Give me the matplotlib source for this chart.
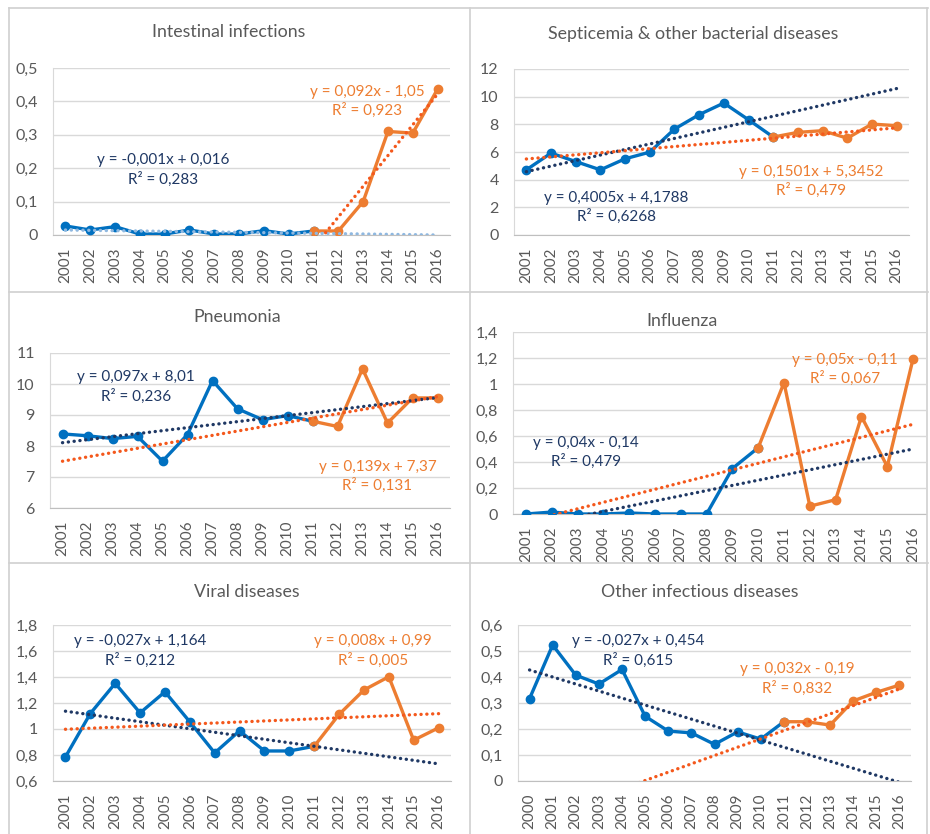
import numpy as np
import matplotlib
matplotlib.use('Agg')
import matplotlib.pyplot as plt
from matplotlib.lines import Line2D

plt.rcParams['font.family'] = ['Lato', 'DejaVu Sans']

W, H = 930, 834

years_a = [str(y) for y in range(2001, 2017)]
years_b = [str(y) for y in range(2000, 2017)]

# values per panel: blue part and orange part (orange starts where blue ends)
intestinal_blue = [0.027, 0.015, 0.025, 0.003, 0.003, 0.015, 0.003, 0.003, 0.013, 0.003, 0.012]
intestinal_orange = [0.012, 0.012, 0.10, 0.31, 0.305, 0.437]

septicemia_blue = [4.71, 5.92, 5.31, 4.71, 5.51, 5.99, 7.66, 8.70, 9.54, 8.33, 7.08]
septicemia_orange = [7.08, 7.42, 7.54, 7.00, 8.02, 7.90]

pneumonia_blue = [8.39, 8.33, 8.24, 8.31, 7.51, 8.37, 10.11, 9.20, 8.85, 8.98, 8.80]
pneumonia_orange = [8.80, 8.63, 10.49, 8.74, 9.55, 9.55]

influenza_blue = [0.0, 0.015, 0.0, 0.0, 0.008, 0.0, 0.0, 0.0, 0.35, 0.51]
influenza_orange = [0.51, 1.01, 0.06, 0.11, 0.75, 0.365, 1.195]

viral_blue = [0.785, 1.119, 1.351, 1.124, 1.286, 1.055, 0.816, 0.986, 0.831, 0.831, 0.867]
viral_orange = [0.867, 1.112, 1.30, 1.402, 0.914, 1.009]

other_blue = [0.317, 0.523, 0.407, 0.373, 0.429, 0.249, 0.192, 0.185, 0.141, 0.189, 0.161, 0.228]
other_orange = [0.228, 0.228, 0.215, 0.308, 0.341, 0.369]

# trendline coefficients (slope, intercept) as shown in the chart labels, x = 1..n
trend_blue = [(-0.001, 0.016), (0.4005, 4.1788), (0.097, 8.01), (0.04, -0.14), (-0.027, 1.164), (-0.027, 0.454)]
trend_orange = [(0.092, -1.05), (0.1501, 5.3452), (0.139, 7.37), (0.05, -0.11), (0.008, 0.99), (0.032, -0.19)]

label_blue = ['y = -0,001x + 0,016\nR² = 0,283', 'y = 0,4005x + 4,1788\nR² = 0,6268',
              'y = 0,097x + 8,01\nR² = 0,236', 'y = 0,04x - 0,14\nR² = 0,479',
              'y = -0,027x + 1,164\nR² = 0,212', 'y = -0,027x + 0,454\nR² = 0,615']
label_orange = ['y = 0,092x - 1,05\nR² = 0,923', 'y = 0,1501x + 5,3452\nR² = 0,479',
                'y = 0,139x + 7,37\nR² = 0,131', 'y = 0,05x - 0,11\nR² = 0,067',
                'y = 0,008x + 0,99\nR² = 0,005', 'y = 0,032x - 0,19\nR² = 0,832']

titles = ['Intestinal infections', 'Septicemia & other bacterial diseases', 'Pneumonia',
          'Influenza', 'Viral diseases', 'Other infectious diseases']

BLUE = '#0070C0'
ORANGE = '#ED7D31'
NAVY = '#1F3864'
ORANGE_TREND = '#F4581C'
GRID = '#D9D9D9'
TEXT = '#595959'

panels = [
    # axes box px (l, r, top, bottom), title centre px, label centres in data coords
    dict(years=years_a, blue=intestinal_blue, orange=intestinal_orange, ylim=(0, 0.5), step=0.1,
         box=(53, 450, 68, 235), tpos=(229, 32), lb=(3.94, 0.195), lo=(12.15, 0.40)),
    dict(years=years_a, blue=septicemia_blue, orange=septicemia_orange, ylim=(0, 12), step=2,
         box=(514, 909, 69, 235), tpos=(693, 34), lb=(3.64, 1.98), lo=(11.54, 3.86)),
    dict(years=years_a, blue=pneumonia_blue, orange=pneumonia_orange, ylim=(6, 11), step=1,
         box=(50, 450, 353, 508), tpos=(237, 317), lb=(2.95, 9.91), lo=(12.6, 7.02)),
    dict(years=years_a, blue=influenza_blue, orange=influenza_orange, ylim=(0, 1.4), step=0.2,
         box=(513, 926, 332, 514), tpos=(682, 321), lb=(2.33, 0.475), lo=(12.35, 1.11)),
    dict(years=years_a, blue=viral_blue, orange=viral_orange, ylim=(0.6, 1.8), step=0.2,
         box=(53, 451, 625, 781), tpos=(247, 592), lb=(3.0, 1.60), lo=(12.35, 1.60)),
    dict(years=years_b, blue=other_blue, orange=other_orange, ylim=(0, 0.6), step=0.1,
         box=(518, 911, 625, 781), tpos=(700, 592), lb=(4.68, 0.50), lo=(11.57, 0.393)),
]


def fmt(v):
    s = ('%.1f' % v).rstrip('0').rstrip('.')
    return s.replace('.', ',')


fig = plt.figure(figsize=(W / 100, H / 100), dpi=100)

dotted = (0, (0.05, 1.7))

for i, p in enumerate(panels):
    l, r, t, b = p['box']
    ax = fig.add_axes([l / W, 1 - b / H, (r - l) / W, (b - t) / H])
    n = len(p['years'])
    x = np.arange(n)
    nb = len(p['blue'])
    xb = x[:nb]
    xo = x[nb - 1:nb - 1 + len(p['orange'])]

    ax.plot(xb, p['blue'], color=BLUE, lw=2.4, marker='o', ms=6, zorder=3,
            solid_joinstyle='round')
    ax.plot(xo, p['orange'], color=ORANGE, lw=2.4, marker='o', ms=6, zorder=4,
            solid_joinstyle='round')

    xt = np.array([0, n - 1])
    sb, ib = trend_blue[i]
    so, io = trend_orange[i]
    bcol = '#8FB8E0' if i == 0 else NAVY
    ax.plot(xt, sb * (xt + 1) + ib, color=bcol, lw=2.4, ls=dotted,
            dash_capstyle='round', zorder=5)
    ax.plot(xt, so * (xt + 1) + io, color=ORANGE_TREND, lw=2.4, ls=dotted,
            dash_capstyle='round', zorder=5)

    ax.text(p['lb'][0], p['lb'][1], label_blue[i], color=NAVY, fontsize=11,
            ha='center', va='center', multialignment='center', linespacing=1.35, zorder=6)
    ax.text(p['lo'][0], p['lo'][1], label_orange[i], color=ORANGE, fontsize=11,
            ha='center', va='center', multialignment='center', linespacing=1.35, zorder=6)

    y0, y1 = p['ylim']
    ticks = np.round(np.arange(y0, y1 + p['step'] / 2, p['step']), 3)
    ax.set_ylim(y0, y1)
    ax.set_xlim(-0.5, n - 0.5)
    ax.set_yticks(ticks)
    ax.set_yticklabels([fmt(v) for v in ticks])
    ax.set_xticks(x)
    ax.set_xticklabels(p['years'], rotation=90)
    ax.tick_params(axis='both', length=0, colors=TEXT)
    ax.tick_params(axis='y', pad=11, labelsize=11.5)
    ax.tick_params(axis='x', pad=9, labelsize=11)
    ax.grid(axis='y', color=GRID, lw=1)
    ax.set_axisbelow(True)
    for s in ['top', 'right']:
        ax.spines[s].set_visible(False)
    ax.spines['left'].set_color(GRID)
    ax.spines['bottom'].set_color('#BFBFBF')

    fig.text(p['tpos'][0] / W, 1 - p['tpos'][1] / H, titles[i], color=TEXT,
             fontsize=12.8, ha='center', va='center')

# panel borders
border = '#D0D0D0'
for (x0, y0, x1, y1) in [(9, 8, 928, 8), (9, 8, 9, 834), (470, 8, 470, 834), (927, 8, 927, 834),
                         (9, 292, 928, 292), (9, 563, 928, 563)]:
    fig.add_artist(Line2D([x0 / W, x1 / W], [1 - y0 / H, 1 - y1 / H], color=border, lw=1.2,
                          transform=fig.transFigure))

fig.savefig('out.png', dpi=100, facecolor='white')
